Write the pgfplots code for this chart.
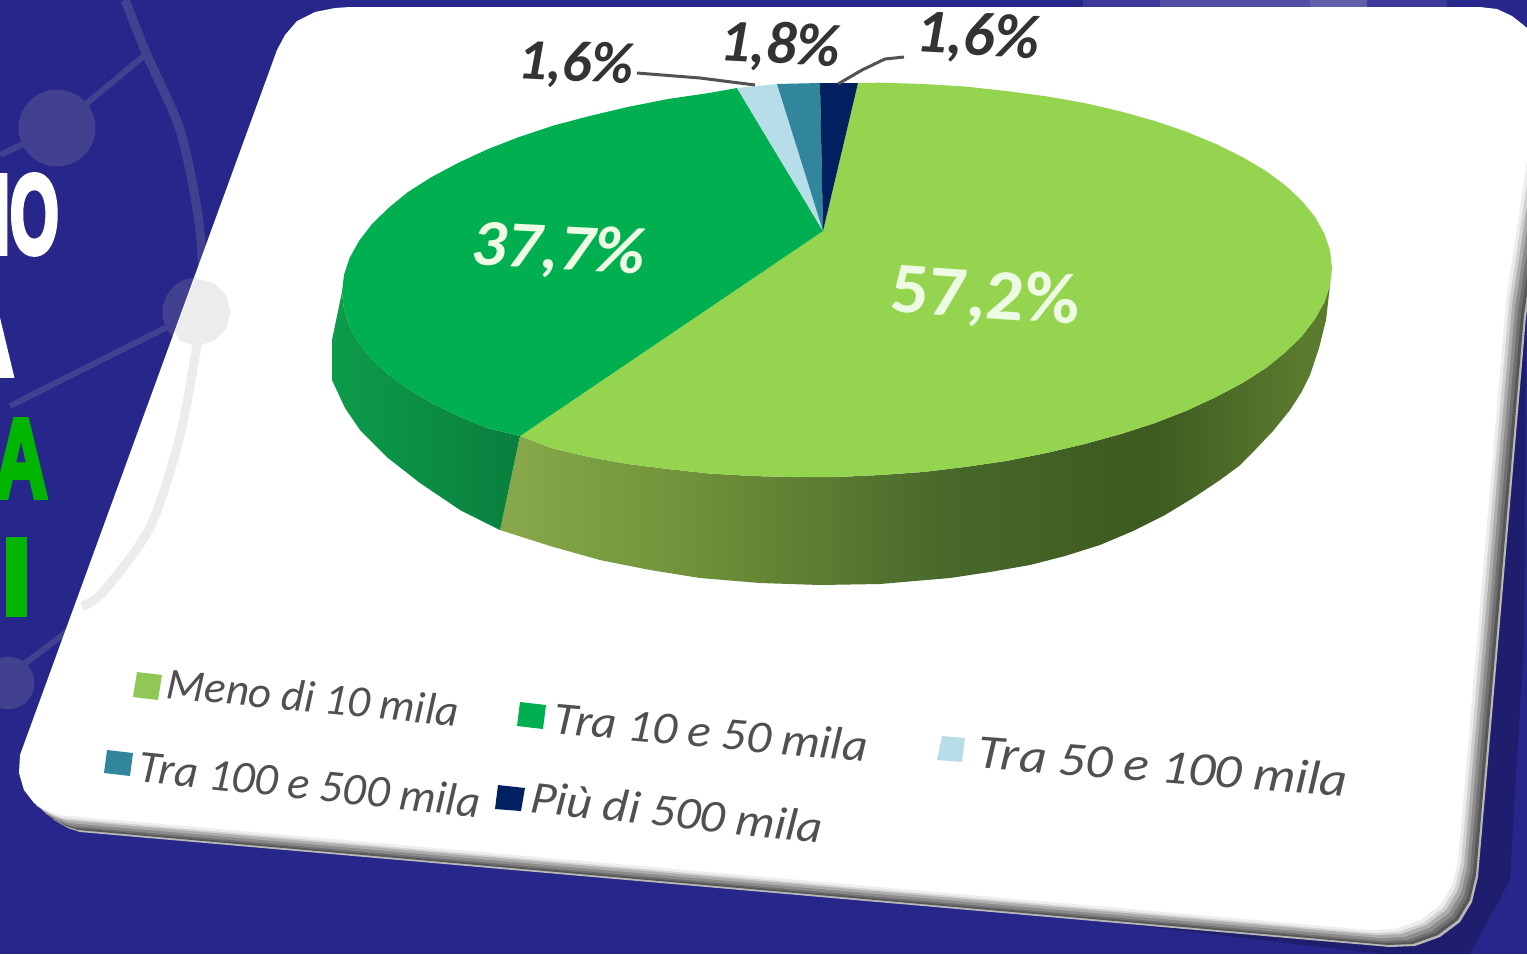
\documentclass[border=0pt]{standalone}
\usepackage{pgfplots}
\usepackage{pgfplotstable}
\usepackage{fontspec}
\pgfplotsset{compat=1.18}
\setmainfont{Carlito}
\newfontfamily\titlefont[BoldFeatures={FakeBold=5}]{Liberation Sans}

\definecolor{navybg}{HTML}{27268A}
\definecolor{deco}{HTML}{41418F}
\definecolor{decocard}{HTML}{ECECEC}
\definecolor{lgreen}{HTML}{94D44F}
\definecolor{dgreen}{HTML}{00B050}
\definecolor{lblue}{HTML}{B7DEE8}
\definecolor{teal2}{HTML}{31859C}
\definecolor{navy2}{HTML}{002060}
\definecolor{titlegreen}{HTML}{00B400}
\definecolor{legtext}{HTML}{505050}
\definecolor{toptext}{HTML}{333333}
\definecolor{pielabel}{HTML}{EEFBE4}
\definecolor{band1}{HTML}{3C3A98}
\definecolor{band2}{HTML}{4F4FA3}
\definecolor{band3}{HTML}{6060A8}

\definecolor{ls1}{HTML}{86A84A}
\definecolor{ls2}{HTML}{6E9039}
\definecolor{ls3}{HTML}{48682A}
\definecolor{ls4}{HTML}{3D5A20}
\definecolor{ls5}{HTML}{5A7A2E}
\definecolor{gs1}{HTML}{0C9C4A}
\definecolor{gs2}{HTML}{0A7F3E}
\pgfdeclarehorizontalshading{lgside}{100bp}{color(0bp)=(ls1);color(26bp)=(ls1);color(37bp)=(ls2);color(52bp)=(ls3);color(64bp)=(ls4);color(73bp)=(ls5);color(100bp)=(ls5)}
\pgfdeclarehorizontalshading{gside}{100bp}{color(0bp)=(gs1);color(25bp)=(gs1);color(75bp)=(gs2);color(100bp)=(gs2)}

% card outline, in pixels of the reference
\pgfplotstableread{
x y
350 7
1480 7
1497 9
1512 16
1527 28
1542 60
1506 300
1477 640
1458 860
1452 885
1440 905
1420 920
1395 929
1370 930
60 815
48 811
34 803
24 790
19 773
20 755
277 50
285 35
297 21
315 12
335 8
}\cardtable

\newcommand{\cardlayer}[3]{\addplot[fill=#1, draw=none] table[x expr=\thisrow{x}+#2, y expr=\thisrow{y}+#3] {\cardtable} -- cycle;}
\newcommand{\legsize}[1]{\fontsize{#1}{#1}\selectfont\itshape}
\newcommand{\topsize}[1]{\fontsize{#1}{#1}\selectfont\bfseries\itshape}
\newcommand{\titlesize}{\titlefont\bfseries\fontsize{56}{56}\selectfont}

\begin{document}
\begin{tikzpicture}
\begin{axis}[
  name=ax, scale only axis, width=763.5pt, height=477pt,
  xmin=0, xmax=1527, ymin=0, ymax=954, y dir=reverse,
  hide axis, clip=true, clip marker paths=true,
]
% background
\addplot[fill=navybg, draw=none] coordinates {(0,0) (1527,0) (1527,954) (0,954)} -- cycle;
\addplot[fill=black, fill opacity=.2, draw=none] coordinates {(600,862) (1380,954) (1470,954) (1510,880) (1524,640) (1527,200) (1400,700)} -- cycle;

% network decoration behind the card
\addplot[deco, line width=4.5pt, smooth] coordinates {(125,0) (147,55) (180,130) (198,215) (204,285)};
\addplot[deco, line width=3pt] coordinates {(145,55) (57,128) (0,155)};
\addplot[deco, line width=3pt] coordinates {(197,312) (10,406)};
\addplot[deco, line width=3pt] coordinates {(23,665) (85,618)};
\addplot[only marks, mark=*, mark size=19pt, deco] coordinates {(57,128)};
\addplot[only marks, mark=*, mark size=17pt, deco] coordinates {(197,312)};
\addplot[only marks, mark=*, mark size=13pt, deco] coordinates {(8,683)};
\addplot[fill=band1, draw=none] coordinates {(1083,0) (1447,0) (1447,9) (1083,9)} -- cycle;
\addplot[fill=band2, draw=none] coordinates {(1160,0) (1367,0) (1367,9) (1160,9)} -- cycle;
\addplot[fill=band3, draw=none] coordinates {(1310,0) (1367,0) (1367,9) (1310,9)} -- cycle;

% title fragments, cut by the left edge
\node[anchor=base east, xscale=.56, text=white, inner sep=0pt, font=\titlesize] at (axis cs:59,253) {IO};
\node[anchor=base east, xscale=.66, text=white, inner sep=0pt, font=\titlesize] at (axis cs:14,375) {A};
\node[anchor=base east, xscale=.66, text=titlegreen, inner sep=0pt, font=\titlesize] at (axis cs:48,497) {A};
\addplot[fill=titlegreen, draw=none] coordinates {(6,537) (27,537) (27,617) (6,617)} -- cycle;

% card with its soft lower edge
\cardlayer{gray!55}{20}{17}
\cardlayer{black!66}{18}{15}
\cardlayer{black!56}{15}{13}
\cardlayer{black!45}{12}{11}
\cardlayer{black!32}{9}{8}
\cardlayer{black!18}{6}{5}
\cardlayer{black!7}{3}{3}
\cardlayer{white}{0}{0}

% decoration seen through the card
\addplot[decocard, line width=4.5pt, smooth] coordinates {(197,344) (180,436) (150,527) (103,592) (82,606)};
\addplot[fill=decocard, draw=none] coordinates {(195,278) (214,283) (226,295) (231,312) (226,329) (214,341) (197,346) (180,341) (175,331)} -- cycle;

% sides of the pie
\addplot[shade, shading=lgside, draw=none] coordinates {
  (1332,268) (1330,285) (1324.5,302) (1315,319) (1302,336) (1285.6,352) (1266,368) (1242.4,383) (1216,397) (1187,410.5)
  (1155,423) (1121,434) (1084.5,444) (1046.4,453) (1006,461) (965,467) (923,472) (880,475)
  (837,477) (794,477) (751,476) (709,473.5) (668,469) (627.6,464) (589.5,457) (553,448.5) (520,436) (500,530)
  (550,546) (600,560) (650,570) (700,578) (760,583) (820,585) (880,584) (950,578) (990,572) (1030,565) (1065,556)
  (1100,545) (1133,531) (1165,515) (1193,498) (1220,480) (1239,466) (1255,450) (1273,431) (1290,410) (1301,393)
  (1310,375) (1319,348) (1326,320)} -- cycle;
\addplot[shade, shading=gside, draw=none] coordinates {
  (342,292) (332,340) (332,380) (345,408) (360,430) (388,458) (420,483) (460,510) (500,530) (520,436)
  (487,428) (458,416) (431.6,403) (408,389) (388.4,374.5) (372,359) (359,343) (349.5,326) (344,309.6)} -- cycle;

% top of the pie
\addplot[fill=lgreen, draw=none] coordinates {
  (823,231) (858,83) (880,82.7) (923,84) (965,86.5) (1006,91) (1046.4,96.3) (1084.5,103) (1121,111.5) (1155,121) (1187,132)
  (1216,144) (1242.4,157) (1266,171) (1285.6,185.5) (1302,201) (1315,217) (1324.5,234) (1330,250.4)
  (1332,268) (1330,285) (1324.5,302) (1315,319) (1302,336) (1285.6,352) (1266,368) (1242.4,383) (1216,397) (1187,410.5)
  (1155,423) (1121,434) (1084.5,444) (1046.4,453) (1006,461) (965,467) (923,472) (880,475)
  (837,477) (794,477) (751,476) (709,473.5) (668,469) (627.6,464) (589.5,457) (553,448.5) (520,436)} -- cycle;
\addplot[fill=dgreen, draw=none] coordinates {
  (823,231) (520,436) (487,428) (458,416) (431.6,403) (408,389) (388.4,374.5) (372,359) (359,343) (349.5,326) (344,309.6)
  (342,292) (344,275) (349.5,258) (359,241) (372,224) (388.4,208) (408,192) (431.6,177) (458,163) (487,149.5)
  (519,137) (553,125.7) (589.5,116) (627.6,107) (668,99) (709,93) (737,88)} -- cycle;
\addplot[fill=lblue, draw=none] coordinates {(823,231) (737,88) (777,84)} -- cycle;
\addplot[fill=teal2, draw=none] coordinates {(823,231) (777,84) (820,83)} -- cycle;
\addplot[fill=navy2, draw=none] coordinates {(823,231) (820,83) (858,83)} -- cycle;

% leader lines
\addplot[black!68, line width=1.5pt] coordinates {(637,73) (700,78) (755,85)};
\addplot[black!68, line width=1.5pt] coordinates {(838,84) (862,70) (885,59) (904,57)};

% labels
\node[text=pielabel, xscale=1.05, font=\fontsize{36}{36}\selectfont\bfseries, rotate=-4] at (axis cs:985,298) {57,2\%};
\node[text=pielabel, xscale=1.05, font=\fontsize{33}{33}\selectfont\bfseries\itshape, rotate=-3] at (axis cs:558,251) {37,7\%};
\node[text=toptext, font=\topsize{29}, rotate=-3] at (axis cs:576,65) {1,6\%};
\node[text=toptext, font=\topsize{30}, rotate=-3] at (axis cs:780,47) {1,8\%};
\node[text=toptext, font=\topsize{31}, rotate=-3] at (axis cs:978,38) {1,6\%};

% legend
\addplot[fill=lgreen!85!gray, draw=none] coordinates {(137,672) (162,675) (158,700) (133,697)} -- cycle;
\addplot[fill=dgreen, draw=none] coordinates {(520,702) (546,705) (543,729) (517,726)} -- cycle;
\addplot[fill=lblue, draw=none] coordinates {(942,736) (965,738) (962,762) (937,760)} -- cycle;
\addplot[fill=teal2, draw=none] coordinates {(107,750) (133,753) (130,776) (104,773)} -- cycle;
\addplot[fill=navy2, draw=none] coordinates {(498,785) (525,788) (521,811) (495,809)} -- cycle;
\node[text=legtext, font=\legsize{22.3}, rotate=-5.5] at (axis cs:313,697) {Meno di 10 mila};
\node[text=legtext, xscale=1.057, font=\legsize{23}, rotate=-5.5] at (axis cs:711,732) {Tra 10 e 50 mila};
\node[text=legtext, xscale=1.108, font=\legsize{24}, rotate=-5] at (axis cs:1163,766) {Tra 50 e 100 mila};
\node[text=legtext, font=\legsize{22.9}, rotate=-6] at (axis cs:310,784) {Tra 100 e 500 mila};
\node[text=legtext, xscale=1.07, font=\legsize{23}, rotate=-6.5] at (axis cs:677,812) {Più di 500 mila};
\end{axis}
\pgfresetboundingbox
\path[use as bounding box] (ax.south west) rectangle (ax.north east);
\end{tikzpicture}
\end{document}
